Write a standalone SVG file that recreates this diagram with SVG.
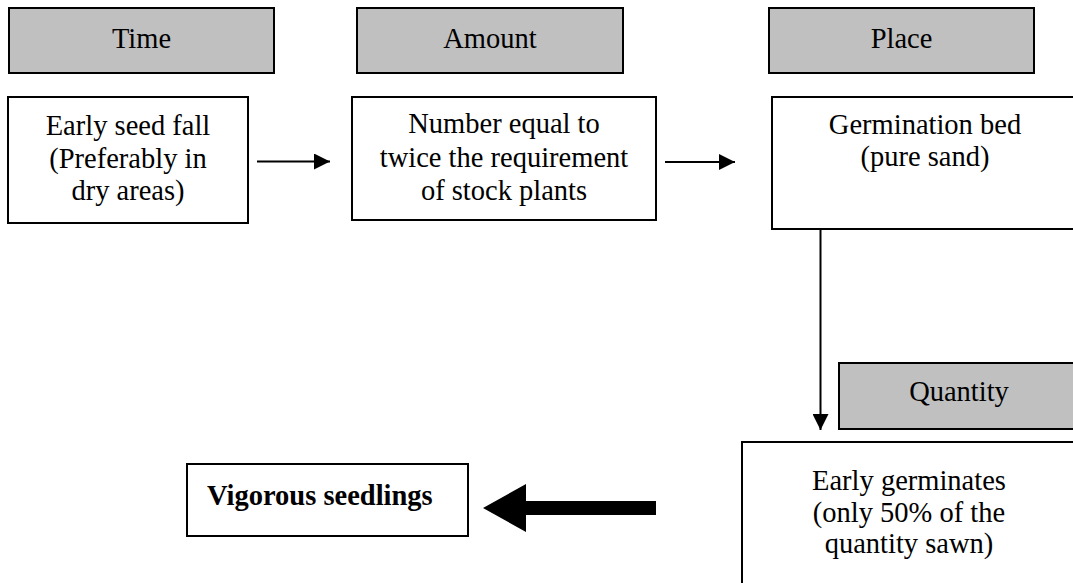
<svg xmlns="http://www.w3.org/2000/svg" width="1073" height="583" viewBox="0 0 1073 583">
<defs>
<style>
.hdr{fill:#c0c0c0;stroke:#000;stroke-width:2}
.box{fill:#fff;stroke:#000;stroke-width:2}
.t{font-family:'Liberation Serif','Times New Roman',Tinos,'DejaVu Serif',serif;font-size:28.5px;fill:#000;text-anchor:middle}
.b{font-weight:bold;text-anchor:start}
.ln{stroke:#000;stroke-width:2;fill:none}
</style>
<marker id="ah" viewBox="0 0 10 10" refX="10" refY="5" markerWidth="16" markerHeight="16" markerUnits="userSpaceOnUse" orient="auto">
<path d="M0,0 L10,5 L0,10 Z" fill="#000"/>
</marker>
</defs>
<rect width="1073" height="583" fill="#fff"/>
<g class="t" font-family="Liberation Serif, Times New Roman, serif">
<g id="time"><rect class="hdr" x="9" y="8" width="265" height="65"/><text x="141.5" y="48">Time</text></g>
<g id="amount"><rect class="hdr" x="357" y="8" width="266" height="65"/><text x="490" y="48">Amount</text></g>
<g id="place"><rect class="hdr" x="769" y="8" width="265" height="65"/><text x="901.5" y="48">Place</text></g>
<g id="seedfall"><rect class="box" x="8" y="97" width="240" height="126"/><text x="128" y="135">Early seed fall</text><text x="128" y="168">(Preferably in</text><text x="128" y="200">dry areas)</text></g>
<g id="number"><rect class="box" x="352" y="97" width="304" height="123"/><text x="504" y="133">Number equal to</text><text x="504" y="167">twice the requirement</text><text x="504" y="200">of stock plants</text></g>
<g id="germbed"><rect class="box" x="772" y="97" width="310" height="132"/><text x="925" y="134">Germination bed</text><text x="925" y="166">(pure sand)</text></g>
<g id="quantity"><rect class="hdr" x="839" y="363" width="240" height="66"/><text x="959" y="401">Quantity</text></g>
<g id="germinates"><rect class="box" x="742" y="442" width="340" height="150"/><text x="909" y="490">Early germinates</text><text x="909" y="522">(only 50% of the</text><text x="909" y="553">quantity sawn)</text></g>
<g id="vigorous"><rect class="box" x="187" y="464" width="281" height="72"/><text class="b" x="207" y="505">Vigorous seedlings</text></g>
</g>
<g id="connectors">
<line class="ln" x1="257" y1="161.5" x2="330" y2="161.5" marker-end="url(#ah)"/>
<line class="ln" x1="665" y1="162" x2="735" y2="162" marker-end="url(#ah)"/>
<line class="ln" x1="820.5" y1="229" x2="820.5" y2="430" marker-end="url(#ah)"/>
<polygon points="483,508 526,484 526,501 656,501 656,515 526,515 526,532" fill="#000"/>
</g>
</svg>
